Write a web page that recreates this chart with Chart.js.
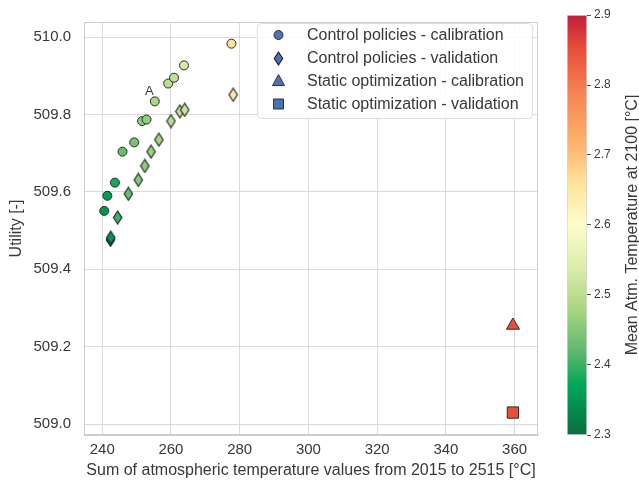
<!DOCTYPE html>
<html>
<head>
<meta charset="utf-8">
<script src="https://cdn.jsdelivr.net/npm/chart.js@4.4.0/dist/chart.umd.min.js"></script>
<style>
  html, body { margin: 0; padding: 0; background: #ffffff; }
  #wrap { position: relative; width: 639px; height: 483px; }
  #main { position: absolute; left: 0; top: 0; }
  #cbar { position: absolute; left: 560px; top: 0; }
</style>
</head>
<body>
<div id="wrap">
  <canvas id="main" width="560" height="483"></canvas>
  <canvas id="cbar" width="79" height="483"></canvas>
</div>
<script>
// Axis ticks
const xTicks = [240, 260, 280, 300, 320, 340, 360];
const yTicks = [509.0, 509.2, 509.4, 509.6, 509.8, 510.0];
const cbTicks = [2.3, 2.4, 2.5, 2.6, 2.7, 2.8, 2.9];

// Control policies - calibration (circles)
const calX = [240.6, 241.5, 243.7, 245.9, 249.3, 251.6, 252.9, 255.3, 259.2, 260.9, 263.8, 277.6];
const calY = [509.551, 509.590, 509.624, 509.704, 509.728, 509.783, 509.787, 509.834, 509.880, 509.895, 509.927, 509.983];
const calT = [2.35, 2.36, 2.38, 2.43, 2.44, 2.46, 2.46, 2.48, 2.50, 2.51, 2.53, 2.66];

// Control policies - validation (diamonds)
const valX = [242.4, 242.5, 244.5, 247.6, 250.5, 252.4, 254.2, 256.5, 260.0, 262.6, 264.0, 278.1];
const valY = [509.476, 509.482, 509.534, 509.595, 509.631, 509.667, 509.704, 509.735, 509.783, 509.808, 509.812, 509.851];
const valT = [2.34, 2.35, 2.40, 2.43, 2.45, 2.46, 2.47, 2.48, 2.50, 2.51, 2.52, 2.65];

// Static optimization
const statCalX = [359.5];
const statCalY = [509.255];
const statCalT = [2.85];
const statValX = [359.5];
const statValY = [509.030];
const statValT = [2.85];

// Annotation
const annotX = 253.7;
const annotY = 509.860;
const annotText = 'A';

const legendLabels = [
    'Control policies - calibration',
    'Control policies - validation',
    'Static optimization - calibration',
    'Static optimization - validation'
];
const cbTitle = 'Mean Atm. Temperature at 2100 [°C]';

// colormap stops (value -> colour)
const cmapVals = [2.30, 2.37, 2.42, 2.48, 2.54, 2.60, 2.66, 2.72, 2.78, 2.85, 2.90];
const cmapCols = ['#0a6e3e', '#00a65a', '#5fb870', '#a9d680', '#dcedac', '#fffccc',
    '#fee29a', '#fdb06a', '#f88a55', '#e8503a', '#c01e3a'];
const cMin = 2.3, cMax = 2.9;

function hexToRgb(h) {
    return [parseInt(h.slice(1, 3), 16), parseInt(h.slice(3, 5), 16), parseInt(h.slice(5, 7), 16)];
}

function cmap(v) {
    v = Math.max(cMin, Math.min(cMax, v));
    let i = 0;
    while (i < cmapVals.length - 2 && v > cmapVals[i + 1]) i++;
    const f = (v - cmapVals[i]) / (cmapVals[i + 1] - cmapVals[i]);
    const a = hexToRgb(cmapCols[i]), b = hexToRgb(cmapCols[i + 1]);
    const c = a.map((x, k) => Math.round(x + (b[k] - x) * f));
    return `rgb(${c[0]}, ${c[1]}, ${c[2]})`;
}

// thin diamond like matplotlib 'd'
function makeDiamond(color) {
    const c = document.createElement('canvas');
    c.width = 11;
    c.height = 15;
    const g = c.getContext('2d');
    g.beginPath();
    g.moveTo(5.5, 1);
    g.lineTo(9.7, 7.5);
    g.lineTo(5.5, 14);
    g.lineTo(1.3, 7.5);
    g.closePath();
    g.fillStyle = color;
    g.fill();
    g.lineWidth = 1.1;
    g.strokeStyle = '#1e1e1e';
    g.stroke();
    return c;
}

const toPts = (xs, ys) => xs.map((x, i) => ({ x: x, y: ys[i] }));
const textColor = '#383838';
const gridColor = '#dadada';
const fontFamily = '"Liberation Sans", Arial, sans-serif';

const frameAndExtras = {
    id: 'frameAndExtras',
    beforeDatasetsDraw(chart) {
        const { ctx, chartArea: a } = chart;
        ctx.save();
        ctx.strokeStyle = '#cccccc';
        ctx.lineWidth = 1;
        ctx.strokeRect(a.left + 0.5, a.top + 0.5, a.right - a.left - 1, a.bottom - a.top - 1);
        ctx.restore();
    },
    afterDatasetsDraw(chart) {
        const { ctx, scales } = chart;
        ctx.save();
        // annotation text
        ctx.fillStyle = textColor;
        ctx.font = '13px ' + fontFamily;
        ctx.textAlign = 'center';
        ctx.textBaseline = 'middle';
        ctx.fillText(annotText, scales.x.getPixelForValue(annotX), scales.y.getPixelForValue(annotY));

        // legend box
        const bx = 257, by = 23, bw = 275, bh = 95;
        ctx.beginPath();
        ctx.roundRect(bx + 0.5, by + 0.5, bw, bh, 4);
        ctx.fillStyle = 'rgba(255,255,255,0.85)';
        ctx.fill();
        ctx.strokeStyle = '#dddddd';
        ctx.lineWidth = 1;
        ctx.stroke();

        const mx = 278.5;
        const rows = [35, 58, 81, 104];
        const blue = '#4c72b0';
        ctx.strokeStyle = '#333333';
        ctx.fillStyle = blue;
        // circle
        ctx.beginPath();
        ctx.arc(mx, rows[0], 4.5, 0, Math.PI * 2);
        ctx.fill();
        ctx.stroke();
        // diamond
        const d = makeDiamond(blue);
        ctx.drawImage(d, Math.round(mx - d.width / 2), Math.round(rows[1] - d.height / 2));
        // triangle
        ctx.beginPath();
        ctx.moveTo(mx, rows[2] - 6.5);
        ctx.lineTo(mx + 6, rows[2] + 4.5);
        ctx.lineTo(mx - 6, rows[2] + 4.5);
        ctx.closePath();
        ctx.fill();
        ctx.stroke();
        // square
        ctx.beginPath();
        ctx.rect(mx - 5, rows[3] - 5, 10, 10);
        ctx.fill();
        ctx.stroke();

        ctx.fillStyle = textColor;
        ctx.font = '16px ' + fontFamily;
        ctx.textAlign = 'left';
        legendLabels.forEach((t, i) => ctx.fillText(t, 307, rows[i] + 1));
        ctx.restore();
    }
};

new Chart(document.getElementById('main'), {
    type: 'scatter',
    data: {
        datasets: [
            {
                label: legendLabels[0],
                data: toPts(calX, calY),
                pointStyle: 'circle',
                pointRadius: 4.5,
                backgroundColor: calT.map(cmap),
                borderColor: '#2a2a2a',
                borderWidth: 1
            },
            {
                label: legendLabels[1],
                data: toPts(valX, valY),
                pointStyle: valT.map(t => makeDiamond(cmap(t))),
                pointRadius: 5,
                backgroundColor: valT.map(cmap),
                borderColor: '#2a2a2a',
                borderWidth: 1
            },
            {
                label: legendLabels[2],
                data: toPts(statCalX, statCalY),
                pointStyle: 'triangle',
                pointRadius: 7.5,
                backgroundColor: statCalT.map(cmap),
                borderColor: '#2a2a2a',
                borderWidth: 1
            },
            {
                label: legendLabels[3],
                data: toPts(statValX, statValY),
                pointStyle: 'rect',
                pointRadius: 8,
                backgroundColor: statValT.map(cmap),
                borderColor: '#2a2a2a',
                borderWidth: 1
            }
        ]
    },
    options: {
        responsive: false,
        animation: false,
        layout: { padding: { top: 14, right: 22, bottom: 0, left: 0 } },
        plugins: {
            legend: { display: false },
            tooltip: { enabled: false }
        },
        scales: {
            x: {
                type: 'linear',
                min: 234.7,
                max: 366.8,
                afterBuildTicks: s => { s.ticks = xTicks.map(v => ({ value: v })); },
                afterFit: s => { s.height = 48; },
                grid: { color: gridColor, drawTicks: false },
                border: { color: '#cccccc' },
                ticks: {
                    padding: 6,
                    color: textColor,
                    font: { family: fontFamily, size: 15 }
                },
                title: {
                    display: true,
                    text: 'Sum of atmospheric temperature values from 2015 to 2515 [°C]',
                    color: textColor,
                    font: { family: fontFamily, size: 16 },
                    padding: { top: 0, bottom: 3 }
                }
            },
            y: {
                type: 'linear',
                min: 508.972,
                max: 510.039,
                afterBuildTicks: s => { s.ticks = yTicks.map(v => ({ value: v })); },
                afterFit: s => { s.width = 84; },
                grid: { color: gridColor, drawTicks: false },
                border: { color: '#cccccc' },
                ticks: {
                    padding: 13,
                    color: textColor,
                    font: { family: fontFamily, size: 15 },
                    callback: v => v.toFixed(1)
                },
                title: {
                    display: true,
                    text: 'Utility [-]',
                    color: textColor,
                    font: { family: fontFamily, size: 16 },
                    padding: { top: 7, bottom: 0 }
                }
            }
        }
    },
    plugins: [frameAndExtras]
});

// colour bar title reads bottom to top, like matplotlib
const cbTitlePlugin = {
    id: 'cbTitle',
    afterDraw(chart) {
        const { ctx, chartArea: a } = chart;
        ctx.save();
        ctx.translate(72.5, (a.top + a.bottom) / 2);
        ctx.rotate(-Math.PI / 2);
        ctx.fillStyle = textColor;
        ctx.font = '16px ' + fontFamily;
        ctx.textAlign = 'center';
        ctx.textBaseline = 'middle';
        ctx.fillText(cbTitle, 0, 0);
        ctx.restore();
    }
};

new Chart(document.getElementById('cbar'), {
    type: 'bar',
    data: {
        labels: ['cb'],
        datasets: [{
            data: [[cMin, cMax]],
            barPercentage: 1,
            categoryPercentage: 1,
            borderColor: '#d6d6d6',
            borderWidth: 1,
            borderSkipped: false,
            backgroundColor: (ctx) => {
                const { chart } = ctx;
                const area = chart.chartArea;
                if (!area) return '#fffccc';
                const g = chart.ctx.createLinearGradient(0, area.bottom, 0, area.top);
                cmapVals.forEach((v, i) => g.addColorStop((v - cMin) / (cMax - cMin), cmapCols[i]));
                return g;
            }
        }]
    },
    options: {
        responsive: false,
        animation: false,
        layout: { padding: { top: 15, right: 0, bottom: 48, left: 7 } },
        plugins: {
            legend: { display: false },
            tooltip: { enabled: false }
        },
        scales: {
            x: { display: false },
            y: {
                position: 'right',
                min: cMin,
                max: cMax,
                afterBuildTicks: s => { s.ticks = cbTicks.map(v => ({ value: v })); },
                afterFit: s => { s.width = 52; },
                grid: { drawOnChartArea: false, drawTicks: true, tickLength: 4, color: '#555555' },
                border: { display: false },
                ticks: {
                    padding: 3,
                    color: textColor,
                    font: { family: fontFamily, size: 12 },
                    callback: v => v.toFixed(1)
                }
            }
        }
    },
    plugins: [cbTitlePlugin]
});
</script>
</body>
</html>
